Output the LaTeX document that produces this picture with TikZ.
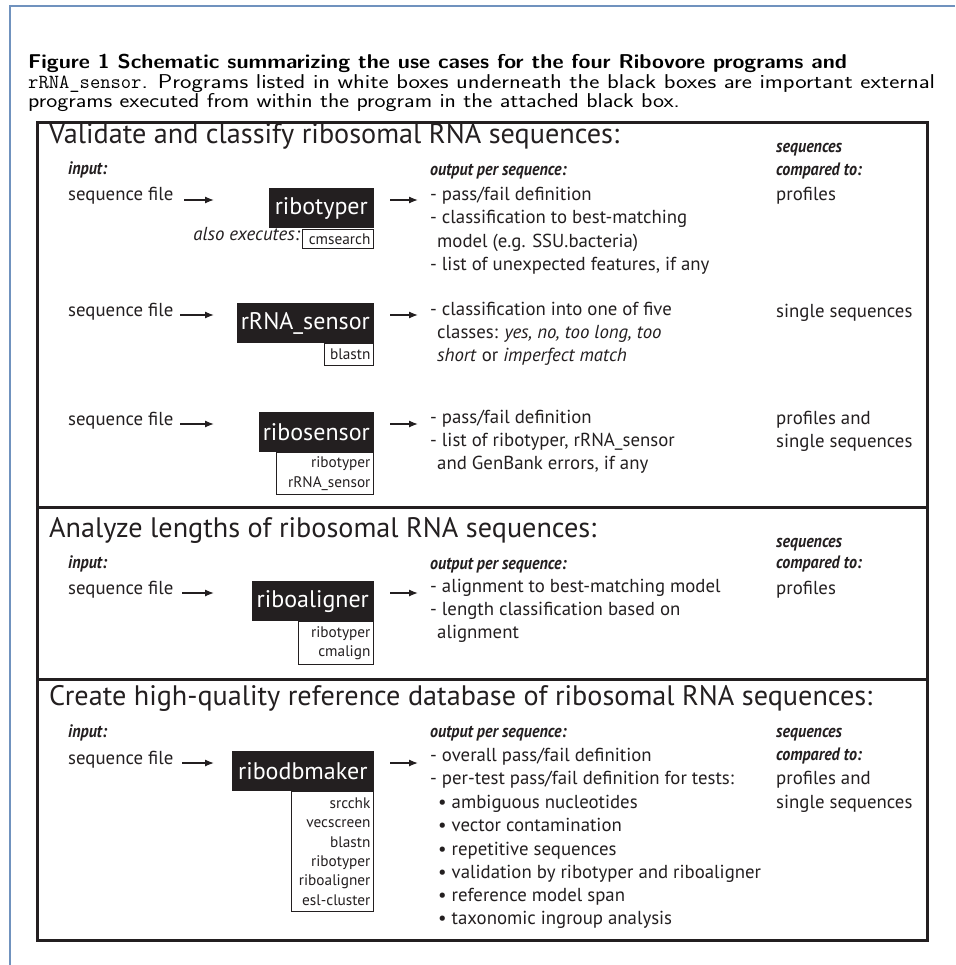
\documentclass[tikz,border=0pt]{standalone}
\usepackage{fontspec}
\usepackage{graphicx}
\newfontfamily\myr{PT Sans}
\newfontfamily\cbi[FakeStretch=0.89]{PT Sans}
\usetikzlibrary{arrows.meta}
\definecolor{framecol}{RGB}{112,146,190}
\definecolor{boxline}{RGB}{35,31,32}
\begin{document}
\begin{tikzpicture}[x=1pt,y=-1pt,
  bodytxt/.style={font=\myr\fontsize{18.8}{20}\selectfont, inner sep=0pt, anchor=mid west, text=boxline},
  labtxt/.style={font=\cbi\bfseries\itshape\fontsize{18}{19}\selectfont, inner sep=0pt, anchor=mid west, text=boxline},
  headtxt/.style={font=\myr\fontsize{28.2}{30}\selectfont, inner sep=0pt, anchor=mid west, text=boxline},
  progbox/.style={fill=boxline, text=white, font=\myr\fontsize{24}{26}\selectfont, inner sep=0pt, anchor=north east, minimum height=40pt},
  subbox/.style={draw=boxline, fill=white, line width=1.2pt, font=\myr\fontsize{15.3}{19.3}\selectfont, inner xsep=3pt, inner ysep=0pt, anchor=north east, align=right, text=boxline},
  arrline/.style={-{Latex[length=9pt,width=7pt]}, line width=1.3pt, draw=boxline},
  captext/.style={font=\sffamily\fontsize{20}{22}\selectfont, inner sep=0pt, anchor=base west},
]
\useasboundingbox (0,0) rectangle (955,965);
\fill[white] (0,0) rectangle (955,965);
% outer blue frame
\draw[framecol, line width=2pt] (9.5,965) -- (9.5,6) -- (955,6);
% caption
\node[captext] (c1) at (28,69) {\scalebox{1.08}[1]{\bfseries Figure 1 Schematic summarizing the use cases for the four Ribovore programs and}};
\node[captext] (c2) at (28,88.5) {\texttt{rRNA\_sensor}\scalebox{1.21}[1]{. Programs listed in white boxes underneath the black boxes are important external}};
\node[captext] (c3) at (28,108) {\scalebox{1.17}[1]{programs executed from within the program in the attached black box.}};
% main box
\draw[boxline, line width=3pt] (37,123) rectangle (927,940);
\draw[boxline, line width=3pt] (37,507) -- (927,507);
\draw[boxline, line width=3pt] (37,679) -- (927,679);

% ===== Section 1 =====
\node[headtxt] (h1) at (49,141) {Validate and classify ribosomal RNA sequences:};
\node[labtxt] (in1) at (68,172) {input:};
\node[labtxt] (out1) at (430,173) {output per sequence:};
\node[labtxt] (sq1a) at (776,150) {sequences};
\node[labtxt] (sq1b) at (776,173) {compared to:};
% row 1
\node[bodytxt] (sf1) at (68,198) {sequence file};
\node[progbox, minimum width=105pt] (p1) at (374,188) {ribotyper};
\node[subbox, minimum width=71pt, minimum height=19pt, text width=65pt] (s1) at (374,229) {cmsearch};
\node[bodytxt, anchor=mid east, font=\myr\itshape\fontsize{18.8}{20}\selectfont] (ae1) at (300,238) {also executes:};
\coordinate (a1s) at (184,200); \coordinate (a1e) at (214,200);
\coordinate (b1s) at (390,200); \coordinate (b1e) at (418,200);
\draw[arrline] (a1s) -- (a1e);
\draw[arrline] (b1s) -- (b1e);
\node[bodytxt] (o1a) at (430,198) {- pass/fail definition};
\node[bodytxt] (o1b) at (430,221.5) {- classification to best-matching};
\node[bodytxt] (o1c) at (437,245) {model (e.g. SSU.bacteria)};
\node[bodytxt] (o1d) at (430,268) {- list of unexpected features, if any};
\node[bodytxt] (r1) at (776,198) {profiles};
% row 2
\node[bodytxt] (sf2) at (68,314) {sequence file};
\node[progbox, minimum width=137pt] (p2) at (374,303) {rRNA\_sensor};
\node[subbox, minimum width=49pt, minimum height=22pt, text width=43pt] (s2) at (374,343) {blastn};
\coordinate (a2s) at (180,315); \coordinate (a2e) at (214,315);
\coordinate (b2s) at (390,315); \coordinate (b2e) at (418,315);
\draw[arrline] (a2s) -- (a2e);
\draw[arrline] (b2s) -- (b2e);
\node[bodytxt] (o2a) at (430,313) {- classification into one of five};
\node[bodytxt] (o2b) at (437,336) {classes: \textit{yes, no, too long, too}};
\node[bodytxt] (o2c) at (437,359) {\textit{short} or \textit{imperfect match}};
\node[bodytxt] (r2) at (776,315) {single sequences};
% row 3
\node[bodytxt] (sf3) at (68,423) {sequence file};
\node[progbox, minimum width=115pt] (p3) at (374,412) {ribosensor};
\node[subbox, minimum width=97pt, minimum height=42pt, text width=91pt] (s3) at (374,452) {ribotyper\\rRNA\_sensor};
\coordinate (a3s) at (180,424); \coordinate (a3e) at (214,424);
\coordinate (b3s) at (390,424); \coordinate (b3e) at (418,424);
\draw[arrline] (a3s) -- (a3e);
\draw[arrline] (b3s) -- (b3e);
\node[bodytxt] (o3a) at (430,421) {- pass/fail definition};
\node[bodytxt] (o3b) at (430,444) {- list of ribotyper, rRNA\_sensor};
\node[bodytxt] (o3c) at (437,467) {and GenBank errors, if any};
\node[bodytxt] (r3a) at (776,422) {profiles and};
\node[bodytxt] (r3b) at (776,445) {single sequences};

% ===== Section 2 =====
\node[headtxt] (h2) at (49,535) {Analyze lengths of ribosomal RNA sequences:};
\node[labtxt] (in2) at (68,566) {input:};
\node[labtxt] (out2) at (430,567) {output per sequence:};
\node[labtxt] (sq2a) at (776,545) {sequences};
\node[labtxt] (sq2b) at (776,566) {compared to:};
\node[bodytxt] (sf4) at (68,592) {sequence file};
\node[progbox, minimum width=122pt] (p4) at (374,581) {riboaligner};
\node[subbox, minimum width=75pt, minimum height=43pt, text width=69pt] (s4) at (374,621) {ribotyper\\cmalign};
\coordinate (a4s) at (182,593); \coordinate (a4e) at (214,593);
\coordinate (b4s) at (390,593); \coordinate (b4e) at (418,593);
\draw[arrline] (a4s) -- (a4e);
\draw[arrline] (b4s) -- (b4e);
\node[bodytxt] (o4a) at (430,590) {- alignment to best-matching model};
\node[bodytxt] (o4b) at (430,613) {- length classification based on};
\node[bodytxt] (o4c) at (437,636) {alignment};
\node[bodytxt] (r4) at (776,592) {profiles};

% ===== Section 3 =====
\node[headtxt] (h3) at (49,703) {Create high-quality reference database of ribosomal RNA sequences:};
\node[labtxt] (in3) at (68,735) {input:};
\node[labtxt] (out3) at (430,735) {output per sequence:};
\node[labtxt] (sq3a) at (776,735) {sequences};
\node[labtxt] (sq3b) at (776,758) {compared to:};
\node[bodytxt] (sf5) at (68,762) {sequence file};
\node[progbox, minimum width=142pt] (p5) at (374,751) {ribodbmaker};
\node[subbox, minimum width=82pt, minimum height=120pt, text width=76pt] (s5) at (374,791) {srcchk\\vecscreen\\blastn\\ribotyper\\riboaligner\\esl-cluster};
\coordinate (a5s) at (182,763); \coordinate (a5e) at (214,763);
\coordinate (b5s) at (390,763); \coordinate (b5e) at (418,763);
\draw[arrline] (a5s) -- (a5e);
\draw[arrline] (b5s) -- (b5e);
\node[bodytxt] (o5a) at (430,759) {- overall pass/fail definition};
\node[bodytxt] (o5b) at (430,782) {- per-test pass/fail definition for tests:};
\node[bodytxt] (o5c) at (438,806) {• ambiguous nucleotides};
\node[bodytxt] (o5d) at (438,829) {• vector contamination};
\node[bodytxt] (o5e) at (438,853) {• repetitive sequences};
\node[bodytxt] (o5f) at (438,876) {• validation by ribotyper and riboaligner};
\node[bodytxt] (o5g) at (438,899) {• reference model span};
\node[bodytxt] (o5h) at (438,922) {• taxonomic ingroup analysis};
\node[bodytxt] (r5a) at (776,782) {profiles and};
\node[bodytxt] (r5b) at (776,806) {single sequences};
\end{tikzpicture}
\end{document}
